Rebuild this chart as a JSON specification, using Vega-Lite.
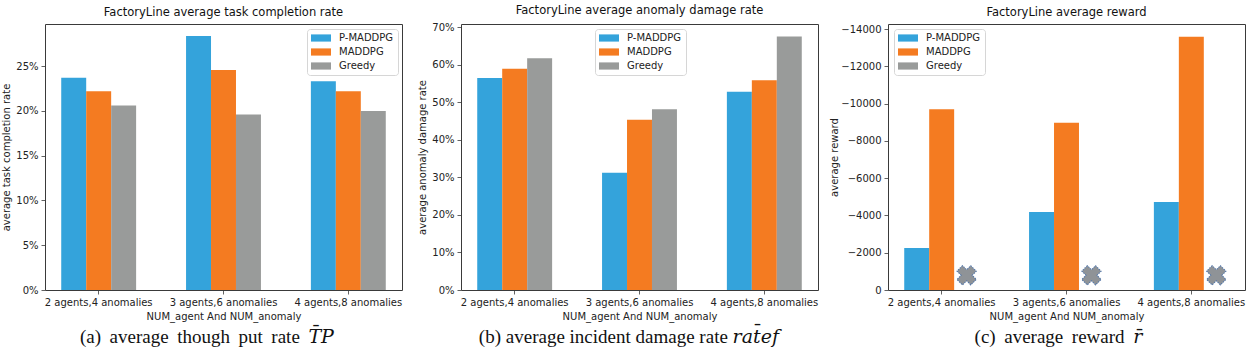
{
  "$schema": "https://vega.github.io/schema/vega-lite/v6.json",
  "background": "white",
  "padding": {"left": 1, "top": 4, "right": 0, "bottom": 0},
  "config": {
    "font": "DejaVu Sans",
    "view": {"stroke": "#3a3a3a", "strokeWidth": 1},
    "axis": {
      "domain": false,
      "grid": false,
      "ticks": true,
      "tickColor": "#3a3a3a",
      "tickSize": 4,
      "tickWidth": 0.8,
      "labelFontSize": 10,
      "labelColor": "#222",
      "labelPadding": 3,
      "titleFontSize": 10,
      "titleFontWeight": "normal",
      "titleColor": "#222",
      "titlePadding": 4
    },
    "title": {"fontSize": 11.5, "fontWeight": "normal", "color": "#111", "offset": 6},
    "legend": {
      "orient": "none",
      "title": null,
      "labelFontSize": 10,
      "labelFontWeight": "normal",
      "labelColor": "#222",
      "symbolType": "M-1,-0.72H3V0.72H-1Z",
      "symbolSize": 100,
      "symbolStrokeWidth": 0,
      "labelOffset": 18,
      "rowPadding": 4,
      "padding": 4,
      "fillColor": "white",
      "strokeColor": "#d6d6d6",
      "cornerRadius": 3
    }
  },
  "datasets": {
    "tp": [
      {"setting": "2 agents,4 anomalies", "method": "P-MADDPG", "value": 0.237},
      {"setting": "2 agents,4 anomalies", "method": "MADDPG", "value": 0.222},
      {"setting": "2 agents,4 anomalies", "method": "Greedy", "value": 0.206},
      {"setting": "3 agents,6 anomalies", "method": "P-MADDPG", "value": 0.2835},
      {"setting": "3 agents,6 anomalies", "method": "MADDPG", "value": 0.2455},
      {"setting": "3 agents,6 anomalies", "method": "Greedy", "value": 0.196},
      {"setting": "4 agents,8 anomalies", "method": "P-MADDPG", "value": 0.233},
      {"setting": "4 agents,8 anomalies", "method": "MADDPG", "value": 0.222},
      {"setting": "4 agents,8 anomalies", "method": "Greedy", "value": 0.200}
    ],
    "damage": [
      {"setting": "2 agents,4 anomalies", "method": "P-MADDPG", "value": 0.564},
      {"setting": "2 agents,4 anomalies", "method": "MADDPG", "value": 0.589},
      {"setting": "2 agents,4 anomalies", "method": "Greedy", "value": 0.617},
      {"setting": "3 agents,6 anomalies", "method": "P-MADDPG", "value": 0.312},
      {"setting": "3 agents,6 anomalies", "method": "MADDPG", "value": 0.453},
      {"setting": "3 agents,6 anomalies", "method": "Greedy", "value": 0.481},
      {"setting": "4 agents,8 anomalies", "method": "P-MADDPG", "value": 0.528},
      {"setting": "4 agents,8 anomalies", "method": "MADDPG", "value": 0.558},
      {"setting": "4 agents,8 anomalies", "method": "Greedy", "value": 0.675}
    ],
    "reward": [
      {"setting": "2 agents,4 anomalies", "method": "P-MADDPG", "value": -2250},
      {"setting": "2 agents,4 anomalies", "method": "MADDPG", "value": -9710},
      {"setting": "3 agents,6 anomalies", "method": "P-MADDPG", "value": -4190},
      {"setting": "3 agents,6 anomalies", "method": "MADDPG", "value": -8980},
      {"setting": "4 agents,8 anomalies", "method": "P-MADDPG", "value": -4730},
      {"setting": "4 agents,8 anomalies", "method": "MADDPG", "value": -13600}
    ],
    "greedyMarks": [
      {"setting": "2 agents,4 anomalies", "method": "Greedy", "value": -790},
      {"setting": "3 agents,6 anomalies", "method": "Greedy", "value": -790},
      {"setting": "4 agents,8 anomalies", "method": "Greedy", "value": -790}
    ]
  },
  "resolve": {"scale": {"color": "independent"}, "legend": {"color": "independent"}},
  "spacing": 14,
  "hconcat": [
    {
      "vconcat": [
        {
          "width": 357,
          "height": 266,
          "title": {"text": "FactoryLine average task completion rate"},
          "data": {"name": "tp"},
          "mark": {"type": "bar"},
          "encoding": {
            "x": {"field": "setting", "type": "nominal", "sort": null,
                  "scale": {"paddingInner": 0.4, "paddingOuter": 0.13},
                  "axis": {"labelAngle": 0, "title": "NUM_agent And NUM_anomaly"}},
            "xOffset": {"field": "method", "type": "nominal", "sort": ["P-MADDPG", "MADDPG", "Greedy"],
                        "scale": {"domain": ["P-MADDPG", "MADDPG", "Greedy"], "paddingInner": 0, "paddingOuter": 0}},
            "y": {"field": "value", "type": "quantitative",
                  "scale": {"domain": [0, 0.297], "nice": false, "zero": true},
                  "axis": {"format": ".0%", "values": [0, 0.05, 0.1, 0.15, 0.2, 0.25], "title": "average task completion rate"}},
            "color": {"field": "method", "type": "nominal",
                      "scale": {"domain": ["P-MADDPG", "MADDPG", "Greedy"], "range": ["#34a3db", "#f47b21", "#999b9a"]},
                      "legend": {"legendX": 262, "legendY": 5}}
          }
        }
      ],
      "title": {"text": "(a) \u2009average \u2009though \u2009put \u2009rate \u2009𝑇̄𝑃", "orient": "bottom", "anchor": "middle", "font": "Liberation Serif, DejaVu Serif", "fontSize": 19, "fontWeight": "normal", "color": "#111", "offset": 6, "dx": 5}
    },
    {
      "resolve": {"scale": {"color": "independent"}, "legend": {"color": "independent"}},
      "spacing": 10,
      "hconcat": [
        {
          "vconcat": [
            {
              "width": 357,
              "height": 266,
              "title": {"text": "FactoryLine average anomaly damage rate"},
              "data": {"name": "damage"},
              "mark": {"type": "bar"},
              "encoding": {
                "x": {"field": "setting", "type": "nominal", "sort": null,
                      "scale": {"paddingInner": 0.4, "paddingOuter": 0.13},
                      "axis": {"labelAngle": 0, "title": "NUM_agent And NUM_anomaly"}},
                "xOffset": {"field": "method", "type": "nominal", "sort": ["P-MADDPG", "MADDPG", "Greedy"],
                            "scale": {"domain": ["P-MADDPG", "MADDPG", "Greedy"], "paddingInner": 0, "paddingOuter": 0}},
                "y": {"field": "value", "type": "quantitative",
                      "scale": {"domain": [0, 0.708], "nice": false, "zero": true},
                      "axis": {"format": ".0%", "values": [0, 0.1, 0.2, 0.3, 0.4, 0.5, 0.6, 0.7], "title": "average anomaly damage rate"}},
                "color": {"field": "method", "type": "nominal",
                          "scale": {"domain": ["P-MADDPG", "MADDPG", "Greedy"], "range": ["#34a3db", "#f47b21", "#999b9a"]},
                          "legend": {"legendX": 134, "legendY": 5}}
              }
            }
          ],
          "title": {"text": "(b) average incident damage rate 𝑟𝑎𝑡̄𝑒𝑓", "orient": "bottom", "anchor": "middle", "font": "Liberation Serif, DejaVu Serif", "fontSize": 19, "fontWeight": "normal", "color": "#111", "offset": 6, "dx": 11}
        },
        {
          "vconcat": [
            {
              "width": 357,
              "height": 266,
              "title": {"text": "FactoryLine average reward"},
              "encoding": {
                "x": {"field": "setting", "type": "nominal", "sort": null,
                      "scale": {"domain": ["2 agents,4 anomalies", "3 agents,6 anomalies", "4 agents,8 anomalies"], "paddingInner": 0.4, "paddingOuter": 0.13},
                      "axis": {"labelAngle": 0, "title": "NUM_agent And NUM_anomaly"}},
                "xOffset": {"field": "method", "type": "nominal", "sort": ["P-MADDPG", "MADDPG", "Greedy"],
                            "scale": {"domain": ["P-MADDPG", "MADDPG", "Greedy"], "paddingInner": 0, "paddingOuter": 0}},
                "y": {"field": "value", "type": "quantitative",
                      "scale": {"domain": [-14280, 0], "nice": false, "reverse": true},
                      "axis": {"format": "d", "values": [0, -2000, -4000, -6000, -8000, -10000, -12000, -14000], "title": "average reward", "titlePadding": 1}}
              },
              "layer": [
                {
                  "data": {"name": "reward"},
                  "mark": {"type": "bar"},
                  "encoding": {
                    "color": {"field": "method", "type": "nominal",
                              "scale": {"domain": ["P-MADDPG", "MADDPG", "Greedy"], "range": ["#34a3db", "#f47b21", "#999b9a"]},
                              "legend": {"legendX": 6, "legendY": 5}}
                  }
                },
                {
                  "data": {"name": "greedyMarks"},
                  "mark": {"type": "point", "shape": "cross", "angle": 45, "size": 380, "filled": true, "fill": "#8f9397", "fillOpacity": 1, "stroke": "#4f74a8", "strokeWidth": 1, "strokeDash": [1.5, 1]},
                  "encoding": {}
                }
              ]
            }
          ],
          "title": {"text": "(c) \u2009average \u2009reward \u2009𝑟̄", "orient": "bottom", "anchor": "middle", "font": "Liberation Serif, DejaVu Serif", "fontSize": 19, "fontWeight": "normal", "color": "#111", "offset": 6, "dx": 21}
        }
      ]
    }
  ]
}
